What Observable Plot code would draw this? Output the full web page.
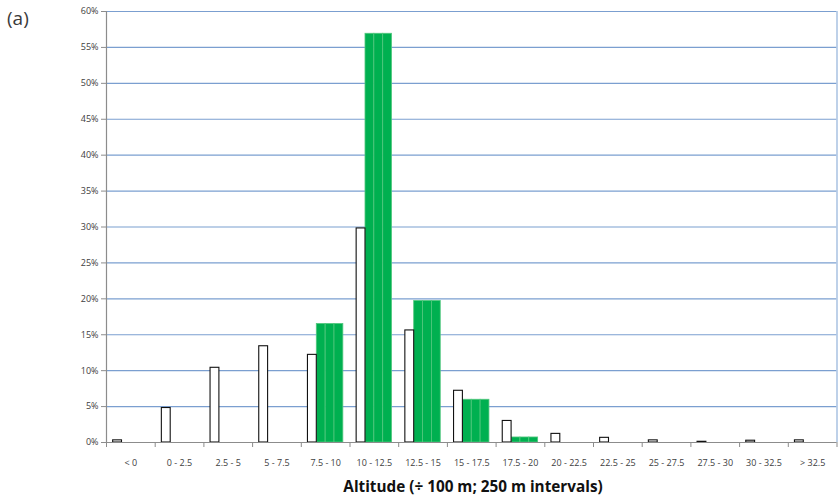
<!DOCTYPE html>
<html>
<head>
<meta charset="utf-8">
<script src="https://cdn.jsdelivr.net/npm/d3@7"></script>
<script src="https://cdn.jsdelivr.net/npm/@observablehq/plot@0.6"></script>
<style>
  html, body { margin: 0; padding: 0; background: #fff; }
  #wrap { position: relative; width: 838px; height: 499px; font-family: "Open Sans", sans-serif; }
  #panel { position: absolute; left: 7px; top: 6px; font-size: 19px; line-height: 24px; color: #3a3a3a; font-weight: normal; }
  #title { position: absolute; left: 106px; width: 734px; top: 476px; line-height: 21px; text-align: center; font-family: "Open Sans", sans-serif; font-weight: bold; font-size: 15.3px; color: #111; }
  svg { display: block; }
</style>
</head>
<body>
<div id="wrap">
  <div id="chart"></div>
  <div id="panel">(a)</div>
  <div id="title">Altitude (÷ 100 m; 250 m intervals)</div>
</div>
<script>
const categories = ["< 0", "0 - 2.5", "2.5 - 5", "5 - 7.5", "7.5 - 10", "10 - 12.5", "12.5 - 15", "15 - 17.5", "17.5 - 20", "20 - 22.5", "22.5 - 25", "25 - 27.5", "27.5 - 30", "30 - 32.5", "> 32.5"];
const whiteValues = [0.3, 4.8, 10.4, 13.4, 12.2, 29.8, 15.6, 7.2, 3.0, 1.2, 0.65, 0.3, 0.1, 0.25, 0.3];
const greenValues = [0, 0, 0, 0, 16.5, 56.9, 19.7, 5.95, 0.7, 0, 0, 0, 0, 0, 0];
const yTicks = [0, 5, 10, 15, 20, 25, 30, 35, 40, 45, 50, 55, 60];

// cluster layout within each category cell (4 slots: white + 3 green sub-bars)
const gap = 0.1365, slot = 0.1817;
const whiteRows = categories.map((c, i) => ({cat: c, v: whiteValues[i], x1: i + gap, x2: i + gap + slot}));
const greenRows = [];
categories.forEach((c, i) => {
  if (greenValues[i] > 0) {
    for (let j = 1; j <= 3; j++) greenRows.push({cat: c, v: greenValues[i], x1: i + gap + j * slot, x2: i + gap + (j + 1) * slot});
  }
});
const boundaries = categories.map((c, i) => i).concat([categories.length]);
const centers = categories.map((c, i) => i + 0.5);

const chart = Plot.plot({
  width: 838,
  height: 499,
  marginLeft: 106,
  marginRight: 1.5,
  marginTop: 11,
  marginBottom: 57,
  style: {fontFamily: "'Open Sans', sans-serif", fontSize: "9px", color: "#333", background: "white"},
  x: {type: "linear", domain: [0, categories.length]},
  y: {domain: [0, 60]},
  marks: [
    Plot.ruleY(yTicks.filter(d => d > 0), {stroke: "#7b9fd0", strokeWidth: 1.1}),
    Plot.ruleX([categories.length], {stroke: "#a9c2e2", strokeWidth: 1.5}),
    Plot.rectY(greenRows, {x1: "x1", x2: "x2", y: "v", fill: "#00b050", stroke: "#52c77e", strokeWidth: 0.8}),
    Plot.rectY(whiteRows, {x1: "x1", x2: "x2", y: "v", fill: "white", stroke: "#111", strokeWidth: 1.1}),
    Plot.ruleY([0], {stroke: "#8c8c8c", strokeWidth: 1.2}),
    Plot.ruleX([0], {stroke: "#8c8c8c", strokeWidth: 1.2}),
    Plot.axisY({ticks: yTicks, tickFormat: d => d + "%", tickSize: 5, tickPadding: 3, stroke: "#8c8c8c", fill: "#404040", fontSize: 9, label: null}),
    Plot.axisX({ticks: boundaries, tickFormat: () => "", tickSize: 5, stroke: "#8c8c8c", label: null}),
    Plot.axisX({ticks: centers, tickFormat: d => categories[Math.floor(d)], tickSize: 0, tickPadding: 17, fill: "#404040", fontSize: 9, label: null})
  ]
});
document.getElementById("chart").appendChild(chart);
</script>
</body>
</html>
